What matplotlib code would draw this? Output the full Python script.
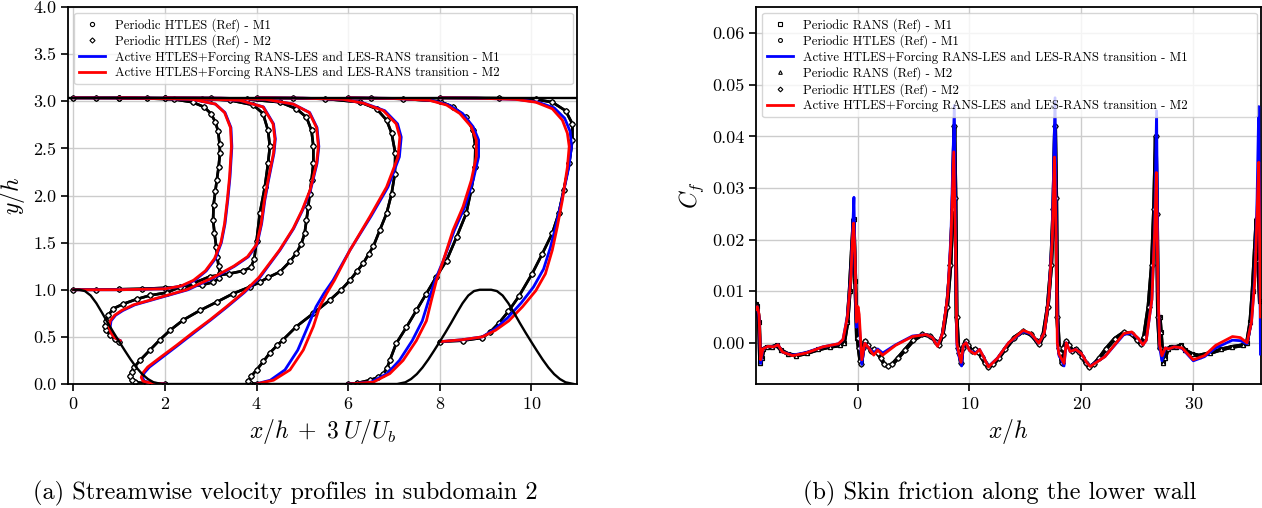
import numpy as np
import matplotlib
matplotlib.use("Agg")
import matplotlib.pyplot as plt
from matplotlib.lines import Line2D

plt.rcParams['font.family'] = 'serif'
plt.rcParams['font.serif'] = ['cmr10']
plt.rcParams['mathtext.fontset'] = 'cm'
plt.rcParams['axes.formatter.use_mathtext'] = True

# -----------------------------
# (a) velocity profiles, points are (x/h + 3 U/Ub, y/h)
# -----------------------------
stations = [0, 1, 2, 4, 6, 8]
top_wall = 3.036

hill_x = [0.0, 0.125, 0.25, 0.375, 0.5, 0.625, 0.75, 0.875, 1.0, 1.125, 1.25, 1.375, 1.5, 1.625, 1.75, 1.93]
hill_y = [1.0, 1.0, 0.986, 0.939, 0.857, 0.755, 0.648, 0.546, 0.448, 0.352, 0.259, 0.175, 0.105, 0.053, 0.018, 0.0]

ref_a = [(0.0, 1.0), (0.5, 1.0), (1.0, 1.005), (1.5, 1.01), (2.0, 1.02), (2.4, 1.03), (2.8, 1.05), (3.05, 1.08),
         (3.18, 1.12), (3.2, 1.18), (3.17, 1.25), (3.14, 1.35), (3.12, 1.45), (3.08, 1.6), (3.05, 1.74), (3.06, 1.9),
         (3.1, 2.05), (3.13, 2.16), (3.17, 2.3), (3.2, 2.45), (3.19, 2.55), (3.16, 2.68), (3.1, 2.78), (3.0, 2.87),
         (2.85, 2.94), (2.6, 2.99), (2.2, 3.02), (1.6, 3.03), (1.0, 3.036), (0.5, 3.036), (0.0, 3.036)]
ref_b = [(1.0, 0.45), (0.9, 0.48), (0.8, 0.52), (0.72, 0.57), (0.69, 0.62), (0.7, 0.67), (0.76, 0.73), (0.87, 0.8),
         (1.09, 0.85), (1.38, 0.9), (1.67, 0.94), (2.04, 0.97), (2.33, 1.03), (2.62, 1.07), (2.98, 1.14), (3.4, 1.17),
         (3.7, 1.2), (3.88, 1.24), (3.95, 1.33), (4.0, 1.52), (4.07, 1.81), (4.18, 2.09), (4.25, 2.34), (4.29, 2.52),
         (4.25, 2.69), (4.14, 2.87), (3.93, 2.96), (3.42, 3.01), (2.8, 3.025), (2.0, 3.033), (1.0, 3.036)]
ref_c = [(2.0, 0.0), (1.6, 0.005), (1.35, 0.02), (1.27, 0.04), (1.24, 0.08), (1.27, 0.13), (1.33, 0.18), (1.45, 0.25),
         (1.67, 0.36), (1.89, 0.47), (2.11, 0.57), (2.4, 0.68), (2.76, 0.78), (3.13, 0.87), (3.49, 0.96), (3.85, 1.03),
         (4.07, 1.08), (4.25, 1.13), (4.51, 1.19), (4.73, 1.3), (4.87, 1.39), (4.98, 1.49), (5.05, 1.6), (5.09, 1.74),
         (5.13, 1.88), (5.16, 2.02), (5.2, 2.16), (5.24, 2.34), (5.24, 2.52), (5.2, 2.69), (5.09, 2.83), (4.87, 2.92),
         (4.51, 2.99), (3.8, 3.02), (3.0, 3.033), (2.0, 3.036)]
ref_d = [(4.0, 0.0), (3.85, 0.01), (3.82, 0.03), (3.88, 0.08), (4.0, 0.15), (4.15, 0.24), (4.29, 0.33), (4.45, 0.41),
         (4.58, 0.47), (4.87, 0.61), (5.24, 0.75), (5.6, 0.89), (5.85, 1.0), (6.04, 1.1), (6.2, 1.2), (6.33, 1.28),
         (6.45, 1.38), (6.55, 1.46), (6.69, 1.63), (6.84, 1.81), (6.95, 2.02), (7.02, 2.23), (7.03, 2.45), (6.95, 2.66),
         (6.84, 2.8), (6.62, 2.92), (6.26, 2.99), (5.5, 3.025), (4.8, 3.033), (4.0, 3.036)]
ref_e = [(6.0, 0.0), (6.2, 0.01), (6.47, 0.04), (6.65, 0.07), (6.77, 0.11), (6.85, 0.17), (6.91, 0.25), (7.05, 0.43),
         (7.27, 0.6), (7.49, 0.78), (7.71, 0.96), (7.93, 1.14), (8.15, 1.31), (8.37, 1.56), (8.58, 1.81), (8.69, 2.06),
         (8.77, 2.3), (8.78, 2.52), (8.73, 2.69), (8.58, 2.83), (8.29, 2.94), (8.0, 3.0), (7.2, 3.025), (6.5, 3.033),
         (6.0, 3.036)]
ref_f = [(8.0, 0.45), (8.5, 0.46), (8.93, 0.49), (9.1, 0.55), (9.3, 0.65), (9.5, 0.77), (9.73, 0.93), (10.02, 1.17),
         (10.24, 1.38), (10.46, 1.6), (10.6, 1.81), (10.71, 2.06), (10.83, 2.34), (10.9, 2.59), (10.9, 2.76),
         (10.75, 2.9), (10.46, 2.99), (10.1, 3.02), (9.3, 3.033), (8.0, 3.036)]

red_a = [(0.0, 1.0), (1.0, 1.0), (2.0, 1.01), (2.35, 1.04), (2.62, 1.1), (2.88, 1.2), (3.08, 1.33), (3.22, 1.5),
         (3.3, 1.7), (3.36, 1.95), (3.41, 2.2), (3.45, 2.52), (3.43, 2.72), (3.3, 2.88), (3.1, 2.97), (2.6, 3.02),
         (1.5, 3.033), (0.0, 3.036)]
red_b = [(1.02, 0.46), (0.9, 0.49), (0.82, 0.54), (0.78, 0.6), (0.8, 0.67), (0.9, 0.73), (1.05, 0.78), (1.31, 0.84),
         (1.89, 0.92), (2.47, 1.0), (3.05, 1.13), (3.5, 1.25), (3.8, 1.35), (4.0, 1.48), (4.1, 1.7), (4.17, 1.95),
         (4.25, 2.16), (4.37, 2.45), (4.4, 2.6), (4.36, 2.76), (4.14, 2.94), (3.63, 3.01), (2.5, 3.03), (1.0, 3.036)]
red_c = [(2.0, 0.0), (1.7, 0.01), (1.52, 0.03), (1.48, 0.07), (1.52, 0.12), (1.62, 0.18), (1.89, 0.28), (2.25, 0.41),
         (2.62, 0.55), (2.98, 0.68), (3.34, 0.82), (3.71, 0.97), (4.05, 1.13), (4.5, 1.42), (4.8, 1.65), (5.0, 1.85),
         (5.17, 2.06), (5.31, 2.34), (5.35, 2.52), (5.31, 2.72), (5.15, 2.88), (4.8, 2.97), (4.2, 3.02), (3.2, 3.033),
         (2.0, 3.036)]
red_d = [(4.0, 0.0), (4.08, 0.01), (4.37, 0.04), (4.73, 0.15), (5.02, 0.36), (5.24, 0.61), (5.38, 0.82), (5.53, 0.96),
         (5.7, 1.1), (6.04, 1.42), (6.48, 1.78), (6.84, 2.09), (7.09, 2.41), (7.13, 2.62), (7.05, 2.76), (6.77, 2.9),
         (6.33, 2.98), (5.89, 3.02), (5.0, 3.033), (4.0, 3.036)]
red_e = [(6.0, 0.0), (6.55, 0.02), (6.91, 0.11), (7.2, 0.25), (7.49, 0.46), (7.71, 0.67), (7.82, 0.89), (7.93, 1.1),
         (8.08, 1.31), (8.29, 1.63), (8.51, 1.88), (8.69, 2.16), (8.8, 2.41), (8.8, 2.59), (8.69, 2.73), (8.44, 2.87),
         (8.15, 2.96), (7.78, 3.01), (7.0, 3.03), (6.0, 3.036)]
red_f = [(8.02, 0.45), (8.5, 0.47), (8.93, 0.5), (9.22, 0.57), (9.51, 0.67), (9.81, 0.82), (10.1, 0.99), (10.31, 1.17),
         (10.46, 1.42), (10.57, 1.67), (10.68, 1.95), (10.79, 2.3), (10.83, 2.52), (10.79, 2.66), (10.68, 2.8),
         (10.46, 2.92), (10.1, 2.99), (9.66, 3.02), (8.8, 3.033), (8.0, 3.036)]

blue_a = [(0.0, 1.0), (1.0, 1.0), (2.0, 1.01), (2.37, 1.04), (2.65, 1.1), (2.9, 1.2), (3.1, 1.33), (3.23, 1.5),
          (3.31, 1.7), (3.37, 1.95), (3.42, 2.2), (3.46, 2.52), (3.44, 2.72), (3.31, 2.88), (3.1, 2.97), (2.6, 3.02),
          (1.5, 3.033), (0.0, 3.036)]
blue_b = [(1.02, 0.46), (0.91, 0.49), (0.83, 0.54), (0.8, 0.6), (0.82, 0.67), (0.92, 0.73), (1.08, 0.78), (1.34, 0.84),
          (1.92, 0.92), (2.5, 1.0), (3.08, 1.13), (3.52, 1.25), (3.82, 1.35), (4.01, 1.48), (4.11, 1.7), (4.18, 1.95),
          (4.26, 2.16), (4.38, 2.45), (4.41, 2.6), (4.37, 2.76), (4.15, 2.94), (3.63, 3.01), (2.5, 3.03), (1.0, 3.036)]
blue_c = [(2.0, 0.0), (1.72, 0.01), (1.55, 0.03), (1.5, 0.07), (1.55, 0.12), (1.66, 0.18), (1.93, 0.28), (2.28, 0.41),
          (2.65, 0.55), (3.0, 0.68), (3.36, 0.82), (3.73, 0.97), (4.07, 1.13), (4.51, 1.42), (4.81, 1.65), (5.01, 1.85),
          (5.18, 2.06), (5.32, 2.34), (5.36, 2.52), (5.32, 2.72), (5.16, 2.88), (4.8, 2.97), (4.2, 3.02), (3.2, 3.033),
          (2.0, 3.036)]
blue_d = [(4.0, 0.0), (4.06, 0.01), (4.3, 0.04), (4.62, 0.15), (4.9, 0.36), (5.12, 0.61), (5.3, 0.82), (5.47, 0.96),
          (5.67, 1.1), (6.04, 1.42), (6.5, 1.78), (6.87, 2.09), (7.12, 2.41), (7.16, 2.62), (7.08, 2.76), (6.8, 2.9),
          (6.35, 2.98), (5.9, 3.02), (5.0, 3.033), (4.0, 3.036)]
blue_e = [(6.0, 0.0), (6.5, 0.02), (6.85, 0.11), (7.12, 0.25), (7.4, 0.46), (7.62, 0.67), (7.76, 0.89), (7.9, 1.1),
          (8.08, 1.31), (8.32, 1.63), (8.55, 1.88), (8.73, 2.16), (8.85, 2.41), (8.85, 2.59), (8.73, 2.73), (8.5, 2.87),
          (8.2, 2.96), (7.82, 3.01), (7.0, 3.03), (6.0, 3.036)]
blue_f = [(8.02, 0.45), (8.5, 0.47), (8.93, 0.5), (9.2, 0.58), (9.48, 0.7), (9.78, 0.86), (10.05, 1.03), (10.27, 1.22),
          (10.42, 1.45), (10.55, 1.7), (10.68, 1.98), (10.82, 2.3), (10.88, 2.52), (10.85, 2.68), (10.73, 2.82),
          (10.5, 2.93), (10.15, 2.99), (9.7, 3.02), (8.8, 3.033), (8.0, 3.036)]

ref_profiles = [ref_a, ref_b, ref_c, ref_d, ref_e, ref_f]
blue_profiles = [blue_a, blue_b, blue_c, blue_d, blue_e, blue_f]
red_profiles = [red_a, red_b, red_c, red_d, red_e, red_f]

# -----------------------------
# (b) skin friction, points are (x/h, Cf)
# -----------------------------
cf_rans_ref = [(-9.05, 0.0075), (-8.95, 0.0072), (-8.8, 0.0040), (-8.7, -0.0040), (-8.55, -0.0030), (-8.4, -0.0012),
               (-8.1, -0.0008), (-7.6, -0.0008), (-7.2, -0.0005), (-6.8, -0.0015), (-6.2, -0.0022), (-5.5, -0.0025),
               (-4.5, -0.0020), (-3.5, -0.0013), (-2.5, -0.0008), (-1.6, -0.0005), (-1.2, 0.0000), (-0.9, 0.0040),
               (-0.7, 0.0100), (-0.5, 0.0180), (-0.35, 0.0240), (-0.2, 0.0120), (-0.05, 0.0010),
               (np.nan, np.nan),
               (27.0, 0.0050), (27.1, 0.0020), (27.3, -0.0040), (27.5, -0.0030), (27.7, -0.0012), (28.0, -0.0008),
               (28.5, -0.0008), (28.9, -0.0005), (29.3, -0.0015), (29.9, -0.0022), (30.5, -0.0025), (31.5, -0.0020),
               (32.5, -0.0013), (33.5, -0.0008), (34.4, -0.0005), (34.8, 0.0000), (35.1, 0.0040), (35.3, 0.0100),
               (35.5, 0.0180), (35.65, 0.0240), (35.8, 0.0160), (35.95, 0.0080)]

cf_htles_ref = [(0.0, 0.0010), (0.1, -0.0010), (0.25, -0.0035), (0.35, -0.0042), (0.5, -0.0010), (0.65, 0.0003),
                (0.9, -0.0005), (1.2, -0.0016), (1.5, -0.0012), (1.8, -0.0020), (2.1, -0.0030), (2.4, -0.0042),
                (2.7, -0.0046), (3.1, -0.0042), (3.6, -0.0030), (4.2, -0.0015), (5.0, 0.0005), (5.8, 0.0016),
                (6.5, 0.0013), (7.0, 0.0002), (7.25, -0.0005), (7.6, 0.0015), (8.0, 0.0070), (8.3, 0.0150),
                (8.5, 0.0260), (8.65, 0.0420), (8.75, 0.0280), (8.85, 0.0050), (9.0, -0.0010),
                (9.1, -0.0020), (9.25, -0.0040), (9.4, -0.0010), (9.65, 0.0003), (9.9, -0.0005), (10.2, -0.0016),
                (10.5, -0.0012), (10.8, -0.0018), (11.1, -0.0028), (11.4, -0.0040), (11.7, -0.0047), (12.1, -0.0042),
                (12.6, -0.0030), (13.2, -0.0012), (14.0, 0.0010), (14.8, 0.0022), (15.5, 0.0016), (16.0, 0.0003),
                (16.25, -0.0003), (16.6, 0.0015), (17.0, 0.0070), (17.3, 0.0150), (17.5, 0.0260), (17.65, 0.0420),
                (17.75, 0.0280), (17.85, 0.0050), (18.0, -0.0010),
                (18.1, -0.0020), (18.25, -0.0040), (18.4, -0.0010), (18.65, 0.0003), (18.9, -0.0005), (19.2, -0.0016),
                (19.5, -0.0012), (19.8, -0.0018), (20.1, -0.0028), (20.4, -0.0040), (20.7, -0.0047), (21.1, -0.0042),
                (21.6, -0.0030), (22.2, -0.0012), (23.0, 0.0008), (23.8, 0.0020), (24.5, 0.0017), (25.0, 0.0005),
                (25.3, -0.0003), (25.6, 0.0012), (26.0, 0.0070), (26.3, 0.0150), (26.5, 0.0260), (26.65, 0.0400),
                (26.75, 0.0250), (26.85, 0.0050), (27.0, -0.0010)]

cf_active_m2 = [(-9.07, 0.0065), (-8.95, 0.0070), (-8.8, 0.0055), (-8.65, -0.0033), (-8.45, -0.0012), (-8.0, -0.0007),
                (-7.5, -0.0008), (-7.1, -0.0004), (-6.7, -0.0018), (-5.8, -0.0025), (-4.6, -0.0020), (-3.1, -0.0008),
                (-1.7, -0.0002), (-1.3, 0.0006), (-0.9, 0.0050), (-0.6, 0.0125), (-0.45, 0.0200), (-0.35, 0.0232),
                (-0.22, 0.0170), (-0.1, 0.0040), (0.04, 0.0070), (0.15, 0.0055), (0.38, -0.0033), (0.65, -0.0001),
                (1.0, -0.0010), (1.45, -0.0024), (1.8, -0.0014), (2.25, -0.0024), (3.4, -0.0005), (4.9, 0.0012),
                (6.1, 0.0016), (6.7, 0.0010), (7.15, -0.0007), (7.6, 0.0018), (8.05, 0.0090), (8.35, 0.0200),
                (8.6, 0.0370), (8.75, 0.0200), (8.88, 0.0000), (9.05, -0.0020), (9.25, -0.0038), (9.45, -0.0005),
                (9.7, 0.0000), (10.0, -0.0015), (10.5, -0.0022), (10.9, -0.0013), (11.2, -0.0025), (11.7, -0.0047),
                (12.5, -0.0030), (13.5, 0.0000), (14.8, 0.0024), (15.5, 0.0018), (16.2, -0.0001), (16.7, 0.0020),
                (17.1, 0.0090), (17.4, 0.0200), (17.6, 0.0360), (17.75, 0.0200), (17.85, 0.0000), (18.0, -0.0022),
                (18.2, -0.0030), (18.45, -0.0040), (18.65, 0.0000), (19.0, -0.0017), (19.5, -0.0013), (20.0, -0.0021),
                (20.5, -0.0039), (20.8, -0.0046), (22.1, -0.0027), (23.8, 0.0018), (24.5, 0.0021), (25.1, 0.0008),
                (25.5, -0.0004), (25.8, 0.0005), (26.3, 0.0084), (26.55, 0.0213), (26.7, 0.0330), (26.85, 0.0100),
                (27.0, -0.0005), (27.2, -0.0025), (27.5, -0.0010), (27.8, -0.0012), (28.3, -0.0008), (29.0, -0.0010),
                (30.0, -0.0033), (31.0, -0.0025), (32.0, -0.0005), (33.5, 0.0012), (34.2, 0.0010), (34.8, 0.0000),
                (35.2, 0.0040), (35.5, 0.0120), (35.7, 0.0250), (35.85, 0.0350), (36.0, 0.0050)]

cf_active_m1 = [(-9.07, 0.0065), (-8.95, 0.0070), (-8.8, 0.0050), (-8.65, -0.0040), (-8.45, -0.0012), (-8.0, -0.0007),
                (-7.5, -0.0008), (-7.1, -0.0004), (-6.7, -0.0018), (-5.8, -0.0024), (-4.6, -0.0019), (-3.1, -0.0008),
                (-1.7, -0.0002), (-1.3, 0.0006), (-0.9, 0.0052), (-0.6, 0.0130), (-0.45, 0.0210), (-0.32, 0.0282),
                (-0.22, 0.0150), (-0.1, 0.0030), (0.04, 0.0060), (0.15, 0.0040), (0.38, -0.0042), (0.65, -0.0001),
                (1.0, -0.0010), (1.45, -0.0020), (1.8, -0.0012), (2.25, -0.0020), (3.4, -0.0004), (4.9, 0.0013),
                (6.1, 0.0016), (6.7, 0.0010), (7.15, -0.0006), (7.6, 0.0018), (8.05, 0.0090), (8.35, 0.0210),
                (8.65, 0.0460), (8.78, 0.0150), (8.88, -0.0005), (9.05, -0.0025), (9.3, -0.0045), (9.45, -0.0005),
                (9.7, 0.0000), (10.0, -0.0015), (10.5, -0.0020), (10.9, -0.0013), (11.2, -0.0025), (11.7, -0.0046),
                (12.5, -0.0030), (13.5, 0.0000), (14.8, 0.0022), (15.5, 0.0017), (16.2, -0.0001), (16.7, 0.0020),
                (17.1, 0.0090), (17.4, 0.0210), (17.65, 0.0475), (17.78, 0.0150), (17.88, -0.0005), (18.0, -0.0025),
                (18.2, -0.0032), (18.45, -0.0045), (18.65, 0.0000), (19.0, -0.0017), (19.5, -0.0013), (20.0, -0.0021),
                (20.5, -0.0039), (20.8, -0.0045), (22.1, -0.0027), (23.8, 0.0016), (24.5, 0.0019), (25.1, 0.0008),
                (25.5, -0.0004), (25.8, 0.0005), (26.3, 0.0084), (26.55, 0.0220), (26.72, 0.0450), (26.85, 0.0100),
                (27.0, -0.0010), (27.2, -0.0035), (27.5, -0.0010), (27.8, -0.0012), (28.3, -0.0008), (29.0, -0.0011),
                (30.0, -0.0035), (31.0, -0.0027), (32.0, -0.0010), (33.5, 0.0005), (34.2, 0.0004), (34.8, -0.0002),
                (35.2, 0.0040), (35.5, 0.0130), (35.7, 0.0280), (35.85, 0.0458), (36.0, -0.0022)]

# -----------------------------
# Figure
# -----------------------------
fig = plt.figure(figsize=(12.62, 5.08), dpi=100)
ax1 = fig.add_axes([68 / 1262, 124 / 508, 509 / 1262, 377 / 508])
ax2 = fig.add_axes([756 / 1262, 124 / 508, 505 / 1262, 377 / 508])

ref_style = dict(color='k', lw=1.9, ms=3.6, mfc='white', mec='k', mew=0.8)

# profiles
for prof in ref_profiles:
    p = np.array(prof)
    ax1.plot(p[:, 0], p[:, 1], marker='o', zorder=2, **ref_style)
    ax1.plot(p[:, 0], p[:, 1], marker='D', zorder=2, **dict(ref_style, ms=3.0))
for prof in blue_profiles:
    p = np.array(prof)
    ax1.plot(p[:, 0], p[:, 1], color='#0000ff', lw=2.0, zorder=3)
for prof in red_profiles:
    p = np.array(prof)
    ax1.plot(p[:, 0], p[:, 1], color='#ff0000', lw=2.0, zorder=4)

# geometry: hill at both ends of the subdomain + upper wall
hx = np.array(hill_x)
hy = np.array(hill_y)
wall_x = np.concatenate([hx, 9 - hx[::-1], 9 + hx])
wall_y = np.concatenate([hy, hy[::-1], hy])
ax1.plot(wall_x, wall_y, color='k', lw=1.7, zorder=5)
ax1.axhline(top_wall, color='k', lw=1.7, zorder=5)

ax1.set_xlim(-0.12, 11.0)
ax1.set_ylim(0, 4)
ax1.set_xticks([0, 2, 4, 6, 8, 10])
ax1.set_yticks(np.arange(0, 4.01, 0.5))
ax1.set_yticklabels(['%.1f' % v for v in np.arange(0, 4.01, 0.5)])
ax1.set_xlabel(r'$x/h\;+\;3\;U/U_b$', fontsize=17)
ax1.set_ylabel(r'$y/h$', fontsize=17)

h1 = [Line2D([], [], ls='none', marker='o', ms=3, mfc='white', mec='k', mew=0.8),
      Line2D([], [], ls='none', marker='D', ms=2.6, mfc='white', mec='k', mew=0.8),
      Line2D([], [], color='#0000ff', lw=2),
      Line2D([], [], color='#ff0000', lw=2)]
l1 = ['Periodic HTLES (Ref) - M1', 'Periodic HTLES (Ref) - M2',
      'Active HTLES+Forcing RANS-LES and LES-RANS transition - M1',
      'Active HTLES+Forcing RANS-LES and LES-RANS transition - M2']
ax1.legend(h1, l1, loc='upper left', bbox_to_anchor=(0.012, 0.985, 0.98, 0.0), mode='expand',
           fontsize=9.2, labelspacing=0.22, handlelength=2.0, borderaxespad=0.0)

# skin friction
r = np.array(cf_rans_ref)
h = np.array(cf_htles_ref)
ax2.plot(r[:, 0], r[:, 1], marker='s', zorder=2, **dict(ref_style, lw=2.8, ms=3.0))
ax2.plot(r[:, 0], r[:, 1], marker='^', zorder=2, **dict(ref_style, lw=2.8, ms=3.0))
ax2.plot(h[:, 0], h[:, 1], marker='o', zorder=2, **dict(ref_style, lw=2.8, ms=3.2))
ax2.plot(h[:, 0], h[:, 1], marker='D', zorder=2, **dict(ref_style, lw=2.8, ms=2.8))
m1 = np.array(cf_active_m1)
m2 = np.array(cf_active_m2)
ax2.plot(m1[:, 0], m1[:, 1], color='#0000ff', lw=2.0, zorder=3)
ax2.plot(m2[:, 0], m2[:, 1], color='#ff0000', lw=2.0, zorder=4)

ax2.set_xlim(-9.07, 36.05)
ax2.set_ylim(-0.0080, 0.0651)
ax2.set_xticks([0, 10, 20, 30])
ax2.set_yticks([0.0, 0.01, 0.02, 0.03, 0.04, 0.05, 0.06])
ax2.set_yticklabels(['%.2f' % v for v in [0.0, 0.01, 0.02, 0.03, 0.04, 0.05, 0.06]])
ax2.set_xlabel(r'$x/h$', fontsize=17)
ax2.set_ylabel(r'$C_f$', fontsize=17)

h2 = [Line2D([], [], ls='none', marker='s', ms=2.6, mfc='white', mec='k', mew=0.8),
      Line2D([], [], ls='none', marker='o', ms=2.8, mfc='white', mec='k', mew=0.8),
      Line2D([], [], color='#0000ff', lw=2),
      Line2D([], [], ls='none', marker='^', ms=2.6, mfc='white', mec='k', mew=0.8),
      Line2D([], [], ls='none', marker='D', ms=2.4, mfc='white', mec='k', mew=0.8),
      Line2D([], [], color='#ff0000', lw=2)]
l2 = ['Periodic RANS (Ref) - M1', 'Periodic HTLES (Ref) - M1',
      'Active HTLES+Forcing RANS-LES and LES-RANS transition - M1',
      'Periodic RANS (Ref) - M2', 'Periodic HTLES (Ref) - M2',
      'Active HTLES+Forcing RANS-LES and LES-RANS transition - M2']
ax2.legend(h2, l2, loc='upper left', bbox_to_anchor=(0.012, 0.985, 0.98, 0.0), mode='expand',
           fontsize=9.2, labelspacing=0.22, handlelength=2.0, borderaxespad=0.0)

for ax in (ax1, ax2):
    ax.grid(True, color='#cccccc', lw=1.0)
    ax.set_axisbelow(True)
    ax.tick_params(direction='out', length=5, width=1.2, labelsize=13, color='k')
    for s in ax.spines.values():
        s.set_linewidth(1.3)

fig.text(285 / 1262, 1 - 493 / 508, '(a) Streamwise velocity profiles in subdomain 2',
         ha='center', va='center', fontsize=17.5)
fig.text(1000 / 1262, 1 - 493 / 508, '(b) Skin friction along the lower wall',
         ha='center', va='center', fontsize=17.5)

fig.savefig('out.png', dpi=100)
